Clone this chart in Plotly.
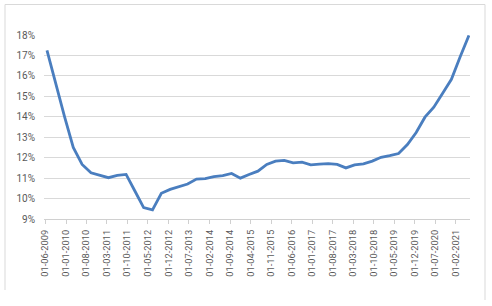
import pandas as pd
import plotly.graph_objects as go

# Quarterly observations, June 2009 .. June 2021
start_month = "2009-06-01"
values_pct = [17.25, 15.6, 14.0, 12.5, 11.67, 11.26, 11.13, 11.02, 11.13, 11.18,
              10.37, 9.56, 9.45, 10.26, 10.45, 10.58, 10.71, 10.95, 10.97, 11.07,
              11.12, 11.23, 11.0, 11.18, 11.34, 11.67, 11.83, 11.87, 11.75, 11.78,
              11.65, 11.68, 11.71, 11.67, 11.5, 11.65, 11.7, 11.83, 12.02, 12.1,
              12.2, 12.64, 13.23, 13.98, 14.47, 15.15, 15.83, 16.92, 17.98]

tick_dates = ["2009-06-01", "2010-01-01", "2010-08-01", "2011-03-01", "2011-10-01",
              "2012-05-01", "2012-12-01", "2013-07-01", "2014-02-01", "2014-09-01",
              "2015-04-01", "2015-11-01", "2016-06-01", "2017-01-01", "2017-08-01",
              "2018-03-01", "2018-10-01", "2019-05-01", "2019-12-01", "2020-07-01",
              "2021-02-01"]
tick_labels = ["01-06-2009", "01-01-2010", "01-08-2010", "01-03-2011", "01-10-2011",
               "01-05-2012", "01-12-2012", "01-07-2013", "01-02-2014", "01-09-2014",
               "01-04-2015", "01-11-2015", "01-06-2016", "01-01-2017", "01-08-2017",
               "01-03-2018", "01-10-2018", "01-05-2019", "01-12-2019", "01-07-2020",
               "01-02-2021"]
y_ticks = [0.09, 0.10, 0.11, 0.12, 0.13, 0.14, 0.15, 0.16, 0.17, 0.18]

dates = pd.date_range(start_month, periods=len(values_pct), freq="3MS") + pd.Timedelta(days=16)
values = [v / 100 for v in values_pct]

fig = go.Figure()
fig.add_trace(go.Scatter(
    x=dates, y=values, mode="lines",
    line=dict(color="#4A7EBF", width=2.8),
    hoverinfo="skip", showlegend=False,
))

W, H = 492, 306
ml, mr, mt, mb = 44, 22, 35, 87

fig.update_layout(
    width=W, height=H,
    margin=dict(l=ml, r=mr, t=mt, b=mb, pad=0),
    paper_bgcolor="white", plot_bgcolor="white",
    font=dict(family="Roboto", color="#595959"),
    xaxis=dict(
        type="date",
        range=["2009-05-17", "2021-06-28"],
        tickvals=tick_dates, ticktext=tick_labels,
        tickangle=-90,
        tickfont=dict(size=9.3, color="#595959"),
        showgrid=False, zeroline=False,
        showline=True, linecolor="#D0D0D0", linewidth=1,
        ticks="outside", ticklen=4, tickcolor="#D0D0D0", tickwidth=1,
        ticklabelstandoff=2,
    ),
    yaxis=dict(
        range=[0.09, 0.18],
        tickvals=y_ticks, tickformat=".0%",
        tickfont=dict(size=10, color="#595959"),
        showgrid=True, gridcolor="#D9D9D9", gridwidth=1,
        zeroline=False, showline=False, ticks="",
        ticklabelstandoff=8,
    ),
)

# chart border (left, top, right)
border = "#D9D9D9"
fig.add_shape(type="line", xref="paper", yref="paper",
              x0=(5 - ml) / (W - ml - mr), x1=(5 - ml) / (W - ml - mr),
              y0=(H - mb - 290) / (H - mt - mb), y1=(H - mb - 4.5) / (H - mt - mb),
              line=dict(color=border, width=1))
fig.add_shape(type="line", xref="paper", yref="paper",
              x0=(5 - ml) / (W - ml - mr), x1=(485 - ml) / (W - ml - mr),
              y0=(H - mb - 4.5) / (H - mt - mb), y1=(H - mb - 4.5) / (H - mt - mb),
              line=dict(color=border, width=1))
fig.add_shape(type="line", xref="paper", yref="paper",
              x0=(485 - ml) / (W - ml - mr), x1=(485 - ml) / (W - ml - mr),
              y0=(H - mb - 300) / (H - mt - mb), y1=(H - mb - 4.5) / (H - mt - mb),
              line=dict(color=border, width=1))

fig.write_html("out.html")
